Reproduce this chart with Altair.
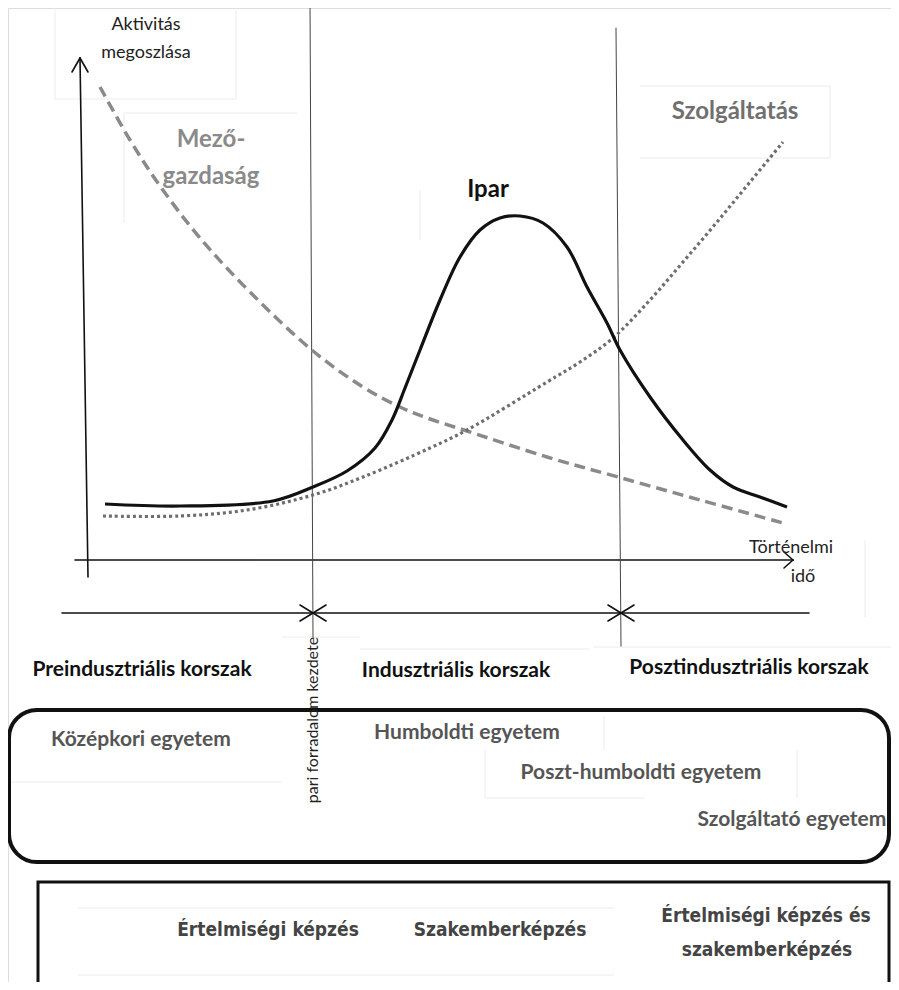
import altair as alt
import pandas as pd

# ---- curve data (diagram units: x = historical time, y = activity share, screen-like) ----
agri_x = [100, 130, 160, 200, 250, 313, 363, 400, 430, 467, 547, 618, 700, 783]
agri_y = [87, 140, 186, 238, 292, 351, 387, 407, 419, 431, 457, 477, 500, 523]

ind_x = [105, 180, 273, 313, 347, 375, 392, 405, 420, 440, 460, 480, 500, 520, 543, 567, 587, 607, 620, 650, 683, 710, 733, 760, 787]
ind_y = [504, 506, 501, 487, 471, 448, 420, 388, 350, 300, 257, 230, 218, 216, 223, 247, 287, 323, 350, 397, 440, 470, 487, 497, 507]

serv_x = [103, 180, 247, 313, 363, 430, 467, 547, 580, 613, 650, 683, 717, 750, 783]
serv_y = [516, 516, 510, 495, 477, 448, 430, 382, 362, 338, 300, 262, 222, 182, 142]

# ---- line segments: axes, period markers, arrows ----
seg_x1 = [80, 80, 80, 75, 793, 793, 310, 616, 62, 313, 313, 313, 313, 621, 621, 621, 621]
seg_y1 = [58, 58, 58, 560, 560, 560, 0, 28, 613, 613, 613, 613, 613, 613, 613, 613, 613]
seg_x2 = [88, 72, 88, 793, 784, 784, 313, 621, 809, 300, 300, 326, 326, 608, 608, 634, 634]
seg_y2 = [577, 72, 72, 560, 552, 568, 637, 646, 613, 605, 621, 605, 621, 605, 621, 605, 621]
seg_w = [1.6, 1.6, 1.6, 1.6, 1.6, 1.6, 1.0, 1.0, 1.6, 1.6, 1.6, 1.6, 1.6, 1.6, 1.6, 1.6, 1.6]
seg_c = ["#111"] * 6 + ["#444", "#444"] + ["#111"] * 9

# ---- faint text-frame outlines visible in the original ----
faint_x1 = [55, 55, 236, 124, 124, 640, 640, 830, 420, 865, 282, 360, 593, 8, 485, 485, 797, 604, 78, 78]
faint_y1 = [8, 99, 8, 113, 113, 86, 158, 86, 190, 540, 637, 649, 647, 782, 750, 798, 750, 716, 908, 975]
faint_x2 = [55, 236, 236, 297, 124, 830, 830, 830, 420, 865, 360, 590, 891, 282, 485, 645, 797, 604, 614, 614]
faint_y2 = [99, 99, 99, 113, 223, 86, 158, 158, 240, 617, 637, 649, 647, 782, 798, 798, 798, 750, 908, 975]

# ---- labels ----
reg_text = ["Aktivitás", "megoszlása", "Történelmi", "idő"]
reg_x = [146, 146, 791, 803]
reg_y = [25, 53, 548, 577]

curve_lbl = ["Mező-", "gazdaság", "Szolgáltatás", "Ipar"]
curve_lbl_x = [211, 211, 735, 488]
curve_lbl_y = [140, 177, 112, 190]
curve_lbl_c = ["#8a8a8a", "#8a8a8a", "#707070", "#111111"]

period_lbl = ["Preindusztriális korszak", "Indusztriális korszak", "Posztindusztriális korszak"]
period_x = [142, 456, 749]
period_y = [670, 671, 668]

univ_lbl = ["Középkori egyetem", "Humboldti egyetem", "Poszt-humboldti egyetem", "Szolgáltató egyetem"]
univ_x = [141, 467, 641, 792]
univ_y = [740, 733, 773, 820]

train_lbl = ["Értelmiségi képzés", "Szakemberképzés", "Értelmiségi képzés és", "szakemberképzés"]
train_x = [268, 500, 766, 767]
train_y = [930, 930, 916, 950]

rev_lbl = ["pari forradalom kezdete"]
rev_x = [313]
rev_y = [720]

# boxes
box_x1 = [9, 38]
box_y1 = [710, 882]
box_x2 = [889, 889]
box_y2 = [862, 1010]

W, H = 883, 974
xs = alt.Scale(domain=[8, 8 + W], nice=False, zero=False)
ys = alt.Scale(domain=[8, 8 + H], nice=False, zero=False, reverse=True)


def X(f="x"):
    return alt.X(f"{f}:Q", scale=xs, axis=None)


def Y(f="y"):
    return alt.Y(f"{f}:Q", scale=ys, axis=None)


agri = pd.DataFrame({"x": agri_x, "y": agri_y})
ind = pd.DataFrame({"x": ind_x, "y": ind_y})
serv = pd.DataFrame({"x": serv_x, "y": serv_y})
segs = pd.DataFrame({"x": seg_x1, "y": seg_y1, "x2": seg_x2, "y2": seg_y2, "w": seg_w, "c": seg_c})
faint = pd.DataFrame({"x": faint_x1, "y": faint_y1, "x2": faint_x2, "y2": faint_y2})

faint_rules = alt.Chart(faint).mark_rule(color="#ececec", strokeWidth=1).encode(
    x=X(), y=Y(), x2="x2:Q", y2="y2:Q"
)

rules = alt.Chart(segs).mark_rule(strokeCap="round").encode(
    x=X(), y=Y(), x2="x2:Q", y2="y2:Q",
    strokeWidth=alt.StrokeWidth("w:Q", scale=None),
    color=alt.Color("c:N", scale=None),
)

agri_line = alt.Chart(agri).mark_line(
    interpolate="catmull-rom", color="#8a8a8a", strokeWidth=3.5, strokeDash=[11, 6]
).encode(x=X(), y=Y(), order="x:Q")
serv_line = alt.Chart(serv).mark_line(
    interpolate="catmull-rom", color="#6e6e6e", strokeWidth=3.2, strokeDash=[3, 3]
).encode(x=X(), y=Y(), order="x:Q")
ind_line = alt.Chart(ind).mark_line(
    interpolate="catmull-rom", color="#111111", strokeWidth=3.2
).encode(x=X(), y=Y(), order="x:Q")

boxes = pd.DataFrame({"x": box_x1, "y": box_y1, "x2": box_x2, "y2": box_y2})
round_box = alt.Chart(boxes.iloc[[0]]).mark_rect(
    cornerRadius=28, fillOpacity=0, stroke="#111", strokeWidth=4
).encode(x=X(), y=Y(), x2="x2:Q", y2="y2:Q")
sq_box = alt.Chart(boxes.iloc[[1]]).mark_rect(
    fillOpacity=0, stroke="#111", strokeWidth=3
).encode(x=X(), y=Y(), x2="x2:Q", y2="y2:Q")

FONT = "Lato"


def text_layer(lbls, xv, yv, size, weight, color, font=FONT, angle=0, colors=None):
    df = pd.DataFrame({"x": xv, "y": yv, "t": lbls})
    enc = dict(x=X(), y=Y(), text="t:N")
    kw = dict(font=font, fontSize=size, fontWeight=weight, align="center",
              baseline="middle", angle=angle)
    if colors is not None:
        df["c"] = colors
        enc["color"] = alt.Color("c:N", scale=None)
    else:
        kw["color"] = color
    return alt.Chart(df).mark_text(**kw).encode(**enc)


t_reg = text_layer(reg_text, reg_x, reg_y, 18, "normal", "#222")
t_curve = text_layer(curve_lbl, curve_lbl_x, curve_lbl_y, 24, "bold", None, colors=curve_lbl_c)
t_period = text_layer(period_lbl, period_x, period_y, 21, "bold", "#111")
t_univ = text_layer(univ_lbl, univ_x, univ_y, 21, "bold", "#555")
t_train = text_layer(train_lbl, train_x, train_y, 19, "bold", "#444", font="DejaVu Sans Condensed")
t_rev = text_layer(rev_lbl, rev_x, rev_y, 16, "normal", "#222", angle=270)

chart = alt.layer(
    faint_rules, round_box, sq_box, rules, agri_line, serv_line, ind_line,
    t_reg, t_curve, t_period, t_univ, t_train, t_rev,
).properties(
    width=W, height=H,
    autosize=alt.AutoSizeParams(type="none"),
    padding=0,
).configure_view(stroke=None, strokeWidth=0).configure(background="white")

chart.save("out.html", embed_options={"renderer": "svg", "actions": False})
